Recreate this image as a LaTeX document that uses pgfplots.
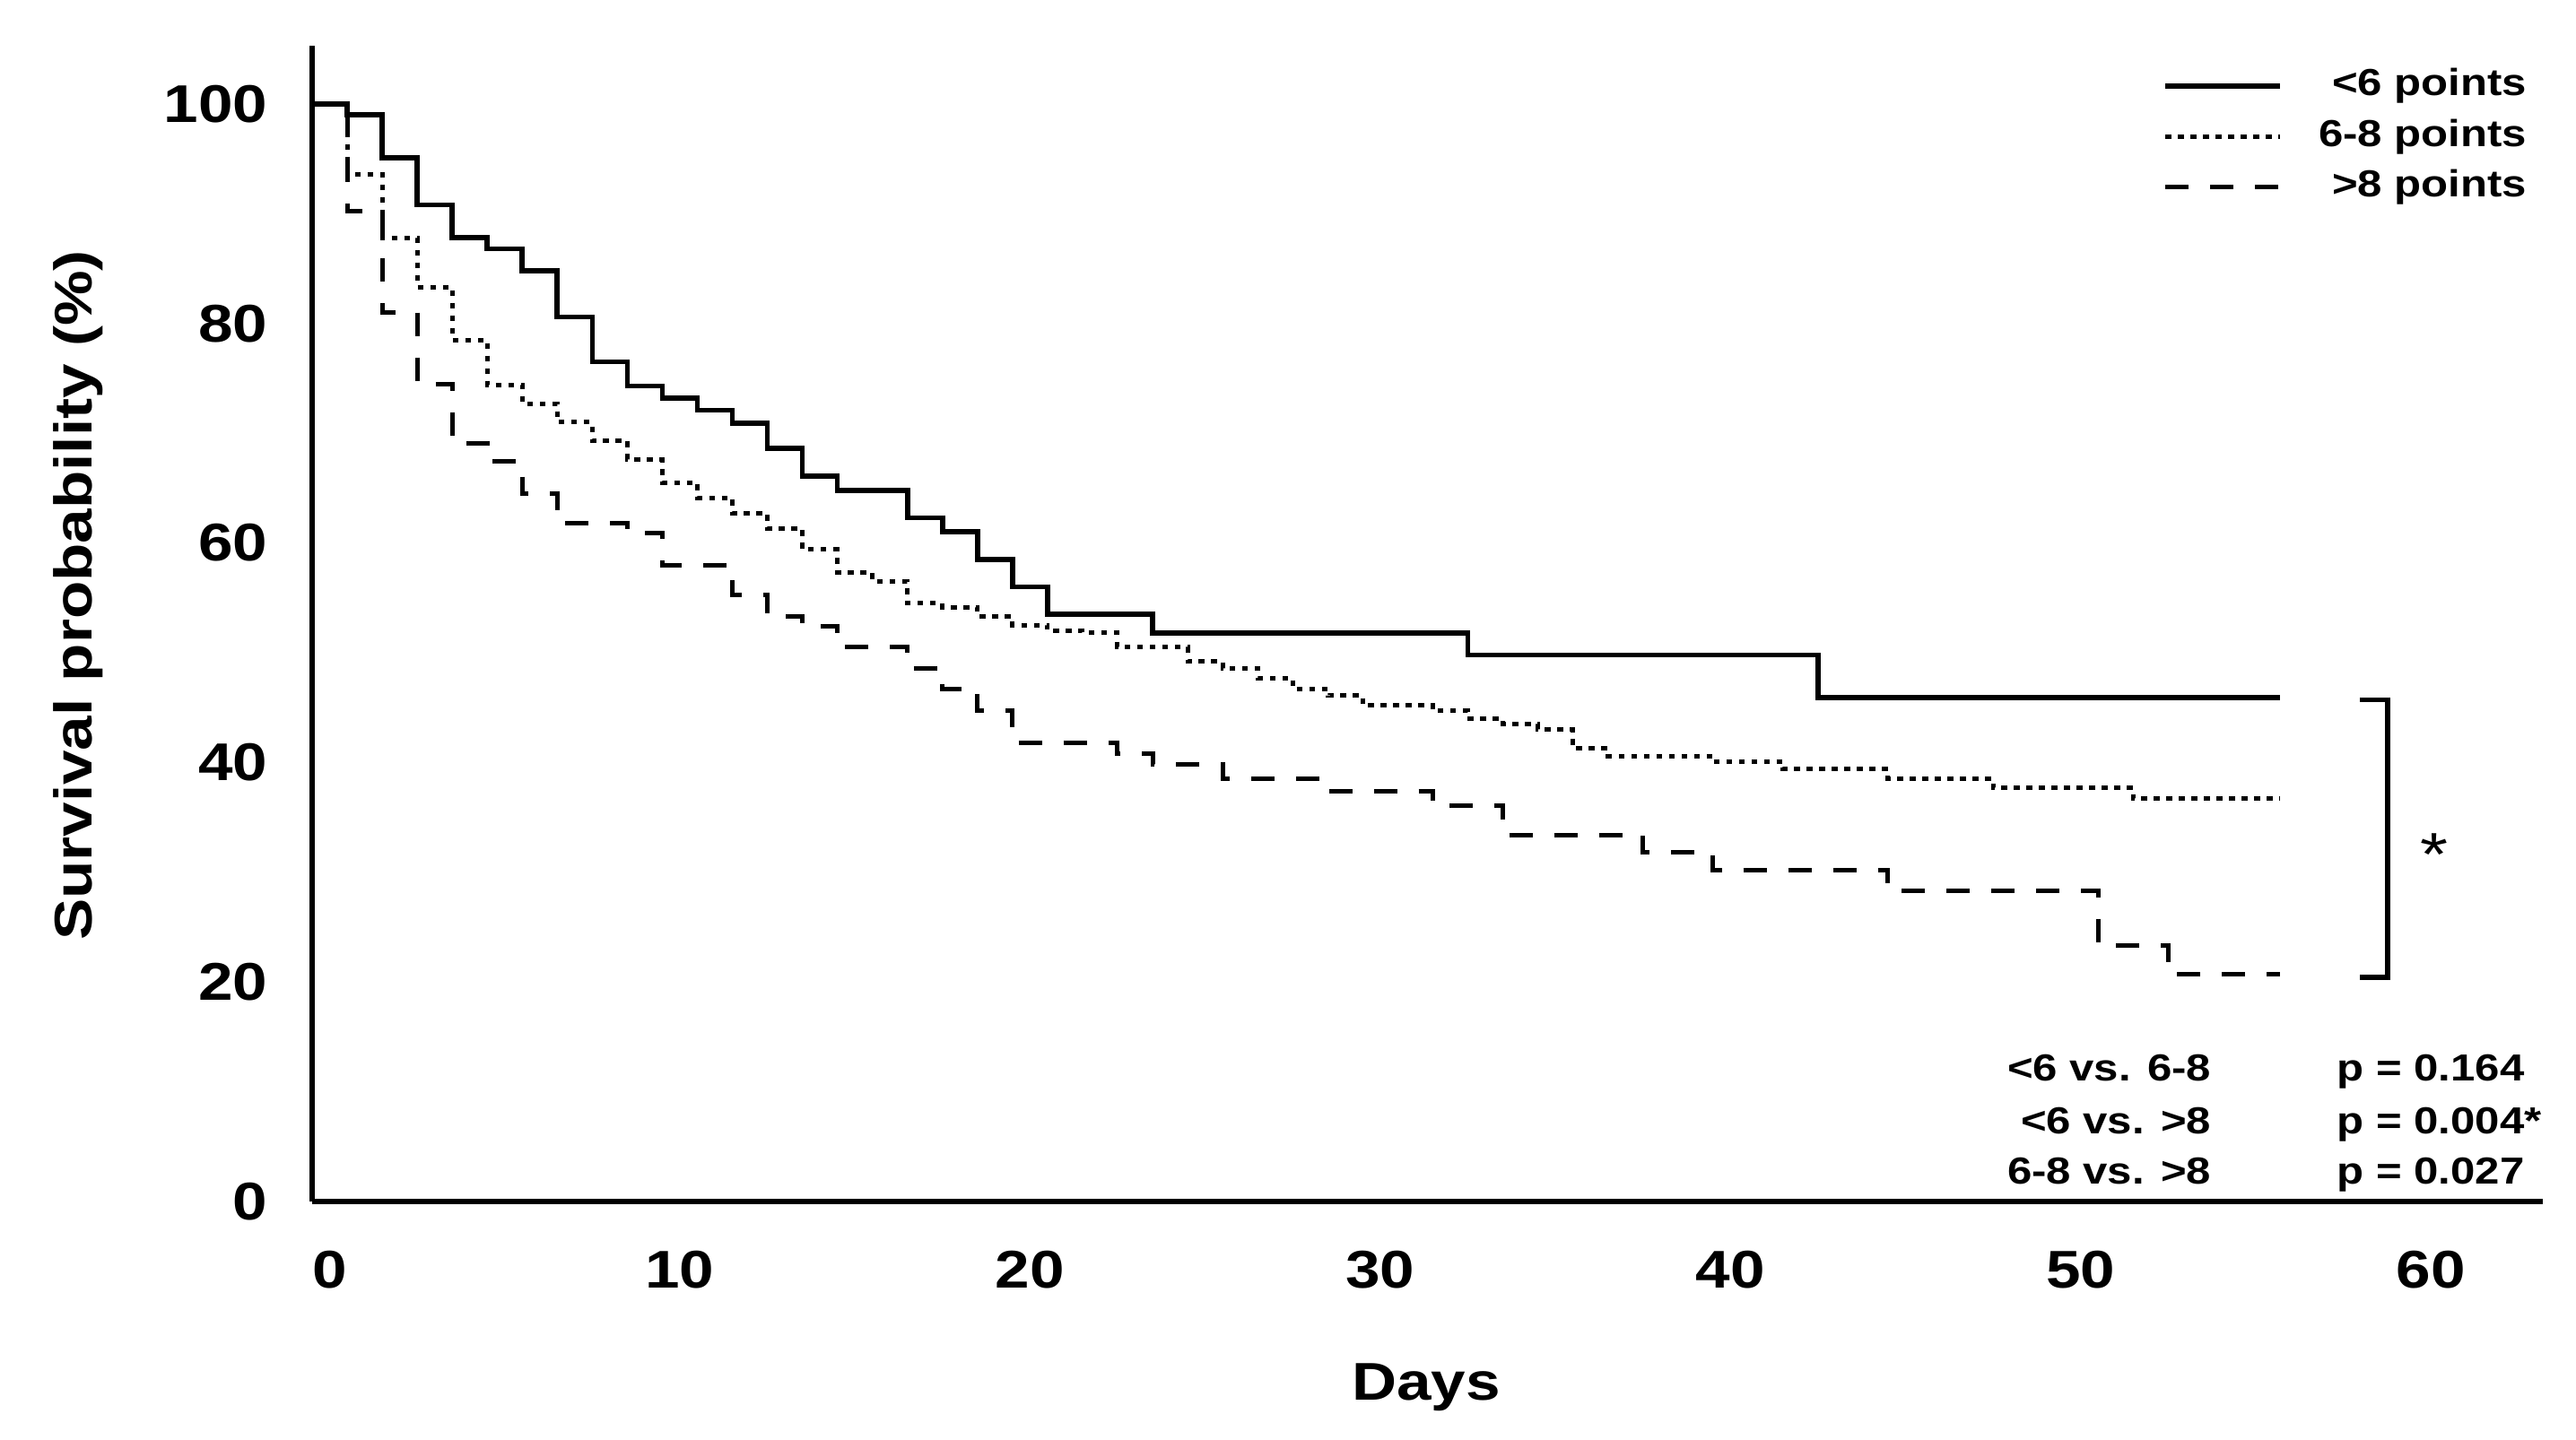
\documentclass[border=0pt]{standalone}
\usepackage{fontspec}
\setmainfont{Liberation Sans}[FakeStretch=1.17]
\usepackage{pgfplots}
\pgfplotsset{compat=1.18}
\begin{document}
\begin{tikzpicture}
\useasboundingbox (-87pt,-66.5pt) rectangle (631pt,335pt);
\begin{axis}[
  at={(0,0)}, anchor=south west,
  scale only axis, width=621.75pt, height=322.25pt,
  xmin=-0.5, xmax=63.2, ymin=0, ymax=105.3,
  axis lines=left,
  x axis line style={-, line width=1.4pt},
  y axis line style={-, line width=1.4pt},
  xtick={0,10,...,60}, ytick={0,20,...,100},
  major tick length=0pt,
  /pgf/number format/assume math mode=true,
  tick label style={font=\fontsize{14.8}{16}\selectfont\bfseries},
  xticklabel style={anchor=center, yshift=-19pt},
  yticklabel style={anchor=east, inner sep=0pt, xshift=-12.2pt},
  clip=false,
  legend image code/.code={\draw[#1] (0pt,0pt) -- (32pt,0pt);},
  legend cell align=right,
  legend style={draw=none, fill=none, at={(rel axis cs:0.9948,0.9837)}, anchor=north east,
    font=\fontsize{10.5}{12}\selectfont\bfseries, inner sep=0pt, column sep=9pt, row sep=2.4pt,
    nodes={inner sep=1pt, text height=7.5pt, text depth=2.2pt}},
]
\addplot[black, line width=1.4pt, const plot mark left] coordinates {
(-0.5,100) (0.5,99.0) (1.5,95.1) (2.5,90.8) (3.5,87.8) (4.5,86.8) (5.5,84.8) (6.5,80.6)
(7.5,76.5) (8.5,74.3) (9.5,73.2) (10.5,72.1) (11.5,70.9) (12.5,68.6) (13.5,66.1) (14.5,64.8)
(16.5,62.3) (17.5,61.0) (18.5,58.5) (19.5,56.0) (20.5,53.5) (23.5,51.8) (32.5,49.8)
(42.5,45.9) (55.7,45.9)};
\addlegendentry{<6 points}
\addplot[black, line width=1.25pt, dash pattern=on 1.6pt off 1.9pt, const plot mark left] coordinates {
(-0.5,100) (0.5,93.6) (1.5,87.8) (2.5,83.3) (3.5,78.5) (4.5,74.4) (5.5,72.7) (6.5,71.0)
(7.5,69.3) (8.5,67.6) (9.5,65.5) (10.5,64.1) (11.5,62.7) (12.5,61.3) (13.5,59.4) (14.5,57.3)
(15.5,56.5) (16.5,54.5) (17.5,54.1) (18.5,53.3) (19.5,52.5) (20.5,52.0) (21.5,51.8) (22.5,50.5)
(24.5,49.2) (25.5,48.6) (26.5,47.7) (27.5,46.7) (28.5,46.1) (29.5,45.2) (31.5,44.7) (32.5,44.0)
(33.5,43.5) (34.5,43.0) (35.5,41.3) (36.5,40.6) (39.5,40.1) (41.5,39.4) (44.5,38.5) (47.5,37.7)
(51.5,36.7) (55.7,36.7)};
\addlegendentry{6-8 points}
\addplot[black, line width=1.25pt, dash pattern=on 6.5pt off 6pt, const plot mark left] coordinates {
(-0.5,100) (0.5,90.2) (1.5,81.0) (2.5,74.5) (3.5,69.1) (4.5,67.4) (5.5,64.5) (6.5,61.8)
(8.5,60.9) (9.5,58.0) (11.5,55.3) (12.5,53.3) (13.5,52.4) (14.5,50.5) (16.5,48.6) (17.5,46.7)
(18.5,44.7) (19.5,41.8) (22.5,40.8) (23.5,39.8) (25.5,38.5) (28.5,37.4) (31.5,36.1) (33.5,33.4)
(37.5,31.8) (39.5,30.2) (44.5,28.3) (50.5,23.3) (52.5,20.7) (55.7,20.7)};
\addlegendentry{>8 points}
% significance bracket
\draw[line width=1.4pt, line join=miter] (axis cs:57.97,45.7) -- (axis cs:58.77,45.7) -- (axis cs:58.77,20.4) -- (axis cs:57.97,20.4);
\node[font=\fontsize{17}{18}\selectfont, anchor=center, yshift=-3.6pt] at (axis cs:60.1,32.8) {*};
% p-values
\begin{scope}[font=\fontsize{10.5}{12}\selectfont\bfseries, inner sep=0pt]
\node[anchor=base east] at (axis cs:53.75,11.0) {<6 vs. 6-8};
\node[anchor=base east] at (axis cs:53.75,6.2) {<6 vs. >8};
\node[anchor=base east] at (axis cs:53.75,1.6) {6-8 vs. >8};
\node[anchor=base west] at (axis cs:57.3,11.0) {p = 0.164};
\node[anchor=base west] at (axis cs:57.3,6.2) {p = 0.004*};
\node[anchor=base west] at (axis cs:57.3,1.6) {p = 0.027};
\end{scope}
% axis labels
\node[font=\fontsize{14.8}{16}\selectfont\bfseries, anchor=base] at ([yshift=-55.3pt]rel axis cs:0.4995,0) {Days};
\node[font=\fontsize{14.8}{16}\selectfont\bfseries, anchor=base, rotate=90] at ([xshift=-61.3pt]rel axis cs:0,0.5244) {Survival probability (\%)};
\end{axis}
\end{tikzpicture}
\end{document}
